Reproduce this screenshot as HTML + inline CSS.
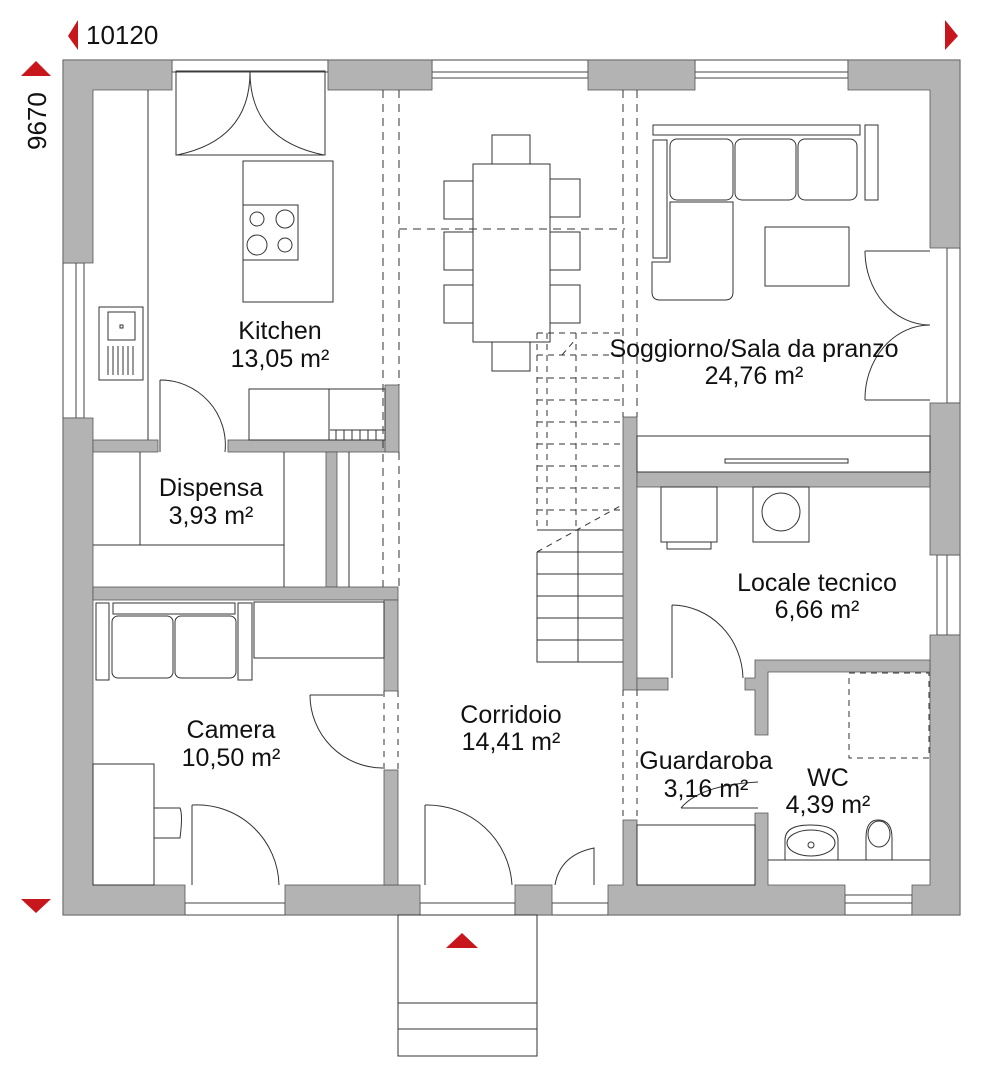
<!DOCTYPE html>
<html><head><meta charset="utf-8"><style>
html,body{margin:0;padding:0;background:#fff}
svg{display:block}
text{font-family:"Liberation Sans",sans-serif;fill:#111}
</style></head><body>
<svg width="995" height="1080" viewBox="0 0 995 1080" xmlns="http://www.w3.org/2000/svg">
<!-- dimension markers -->
<polygon points="78,20 68,36 78,50" fill="#c8161d"/>
<text x="86" y="44" font-size="26">10120</text>
<polygon points="945,20 958,36 945,50" fill="#c8161d"/>
<polygon points="21,76 36,61 51,76" fill="#c8161d"/>
<text x="0" y="0" font-size="26" transform="translate(46,150) rotate(-90)">9670</text>
<polygon points="21,899 36,913 51,899" fill="#c8161d"/>

<g fill="none" stroke="#333" stroke-width="1">
<rect x="63" y="60" width="897" height="855"/>
</g>

<!-- windows -->
<g fill="#fff" stroke="#444" stroke-width="1">
<rect x="172" y="60" width="156" height="12"/>
<rect x="432" y="60" width="156" height="12"/>
<rect x="432" y="72" width="156" height="6"/>
<rect x="695" y="60" width="153" height="12"/>
<rect x="695" y="72" width="153" height="6"/>
<rect x="63" y="263" width="13" height="155"/>
<rect x="76" y="263" width="8" height="155"/>
<rect x="947" y="248" width="13" height="155"/>
<rect x="947" y="555" width="13" height="80"/>
<rect x="937" y="555" width="10" height="80"/>
<rect x="185" y="903" width="100" height="12"/>
<rect x="845" y="903" width="67" height="12"/>
<rect x="845" y="895" width="67" height="8"/>
<rect x="420" y="903" width="95" height="12"/>
<rect x="552" y="903" width="56" height="12"/>
</g>

<!-- walls -->
<g fill="#b3b3b3" stroke="#555" stroke-width="0.8">
<path d="M63,60 H172 V90 H93 V263 H63 Z"/>
<rect x="328" y="60" width="104" height="30"/>
<rect x="588" y="60" width="107" height="30"/>
<path d="M848,60 H960 V248 H930 V90 H848 Z"/>
<rect x="930" y="403" width="30" height="152"/>
<path d="M930,635 H960 V915 H912 V885 H930 Z"/>
<path d="M63,418 H93 V885 H185 V915 H63 Z"/>
<rect x="285" y="885" width="135" height="30"/>
<rect x="515" y="885" width="37" height="30"/>
<path d="M608,885 H623 V820 H637 V885 H755 V813 H768 V885 H845 V915 H608 Z"/>
<rect x="93" y="440" width="65" height="12"/>
<rect x="228" y="440" width="170" height="12"/>
<rect x="385" y="385" width="14" height="67"/>
<rect x="326" y="452" width="11" height="135"/>
<rect x="93" y="587" width="305" height="13"/>
<rect x="384" y="600" width="14" height="91"/>
<rect x="384" y="770" width="14" height="115"/>
<rect x="623" y="417" width="14" height="273"/>
<rect x="637" y="472" width="293" height="15"/>
<rect x="637" y="678" width="31" height="12"/>
<path d="M755,660 H930 V672 H768 V735 H755 V690 H745 V678 H755 Z"/>
</g>

<g fill="none" stroke="#333" stroke-width="1">
<!-- kitchen -->
<line x1="148" y1="90" x2="148" y2="440"/>
<rect x="99" y="307" width="44" height="73"/>
<rect x="108" y="312" width="27" height="28"/>
<rect x="120" y="325" width="3" height="3"/>
<path d="M108,346 V375 M113,346 V375 M118,346 V375 M123,346 V375 M128,346 V375 M133,346 V375"/>
<rect x="176" y="71" width="149" height="84"/>
<path d="M250,72 Q250,140 177,155 M250,72 Q250,140 324,155"/>
<rect x="243" y="161" width="90" height="141"/>
<rect x="243" y="205" width="55" height="55"/>
<circle cx="257" cy="219" r="7"/><circle cx="285" cy="219" r="9"/>
<circle cx="257" cy="245" r="10"/><circle cx="285" cy="245" r="7"/>
<rect x="249" y="389" width="80" height="51"/>
<rect x="329" y="389" width="56" height="51"/>
<path d="M330,430 H385 M336,430 V440 M344,430 V440 M352,430 V440 M360,430 V440 M368,430 V440 M376,430 V440"/>
<path d="M160,380 V452 M160,380 A65,65 0 0 1 225,452"/>
<!-- dispensa -->
<line x1="140" y1="452" x2="140" y2="545"/>
<path d="M93,545 H284 V452 M284,545 V587"/>
<line x1="349" y1="452" x2="349" y2="587"/>
<!-- dashed -->
<path d="M383,90 V587 M399,90 V385 M399,452 V587 M399,229 H625 M623,90 V417 M637,90 V417" stroke-dasharray="8,6"/>
<path d="M384,691 V770 M398,691 V770 M623,690 V820 M637,690 V820" stroke-dasharray="6,6"/>
<!-- dining -->
<rect x="473" y="164" width="77" height="178"/>
<rect x="492" y="135" width="38" height="29"/>
<rect x="492" y="342" width="38" height="29"/>
<rect x="444" y="181" width="29" height="38"/><rect x="444" y="232" width="29" height="38"/><rect x="444" y="285" width="29" height="38"/>
<rect x="550" y="179" width="30" height="38"/><rect x="550" y="232" width="30" height="38"/><rect x="550" y="285" width="30" height="38"/>
<!-- living -->
<rect x="653" y="125" width="207" height="10"/>
<rect x="865" y="125" width="13" height="75"/>
<rect x="670" y="139" width="63" height="61" rx="7"/>
<rect x="735" y="139" width="61" height="61" rx="7"/>
<rect x="798" y="139" width="59" height="61" rx="7"/>
<rect x="653" y="140" width="14" height="118"/>
<path d="M670,202 H733 V292 Q733,300 725,300 H660 Q652,300 652,292 V262 H670 Z"/>
<rect x="765" y="227" width="84" height="59"/>
<path d="M865,251 H930 M865,251 A65,74 0 0 0 930,325 M865,400 H930 M865,400 A65,74 0 0 1 930,325"/>
<rect x="637" y="436" width="293" height="36"/>
<rect x="725" y="459" width="123" height="4"/>
<!-- stairs -->
<path d="M537,333 V530 M547,333 V530 M576,333 V530 M537,333 H622 M537,355 H622 M537,378 H622 M537,400 H622 M537,422 H622 M537,444 H622 M537,466 H622 M537,488 H622 M537,510 H622 M537,552 L622,505 M562,355 L575,340" stroke-dasharray="6,5"/>
<path d="M537,552 V662 H623 M578,530 V662 M537,530 H623 M537,552 H623 M537,574 H623 M537,596 H623 M537,618 H623 M537,640 H623"/>
<!-- locale tecnico -->
<rect x="661" y="487" width="56" height="55"/>
<rect x="667" y="542" width="44" height="7"/>
<rect x="753" y="487" width="56" height="55"/>
<circle cx="781" cy="512" r="19"/>
<path d="M672,605 V678 M672,605 A72,75 0 0 1 743,678"/>
<!-- guardaroba -->
<rect x="637" y="825" width="118" height="60"/>
<path d="M681,808 Q700,785 758,782 M681,808 H758"/>
<!-- WC -->
<rect x="849" y="673" width="80" height="85" stroke-dasharray="6,5"/>
<path d="M768,860 H930"/>
<path d="M785,860 V840 Q785,825 810,825 Q838,825 838,840 V860"/>
<ellipse cx="811" cy="843" rx="24" ry="13"/>
<circle cx="811" cy="845" r="3"/>
<path d="M866,860 V838 Q866,820 878,820 Q892,820 892,838 V860"/>
<ellipse cx="879" cy="834" rx="11" ry="13"/>
<!-- camera -->
<rect x="96" y="603" width="13" height="77"/>
<rect x="113" y="603" width="122" height="11"/>
<rect x="112" y="616" width="61" height="62" rx="6"/>
<rect x="175" y="616" width="61" height="62" rx="6"/>
<rect x="238" y="603" width="14" height="77"/>
<rect x="254" y="602" width="130" height="56"/>
<path d="M310,695 H383 M310,695 A73,73 0 0 0 383,768"/>
<rect x="93" y="764" width="61" height="121"/>
<path d="M154,808 H180 Q183,815 180,838 H154"/>
<path d="M192,805 V885 M192,805 A82,82 0 0 1 279,885"/>
<!-- entrance -->
<path d="M425,805 V885 M425,805 A85,85 0 0 1 512,885"/>
<path d="M555,885 Q560,855 594,848 V885"/>
<rect x="398" y="915" width="139" height="141"/>
<line x1="398" y1="1003" x2="537" y2="1003"/><line x1="398" y1="1029" x2="537" y2="1029"/>
</g>
<polygon points="446,948 462,933 478,948" fill="#c8161d"/>

<!-- labels -->
<g font-size="25" text-anchor="middle">
<text x="280" y="339">Kitchen</text><text x="280" y="367">13,05 m²</text>
<text x="211" y="496">Dispensa</text><text x="211" y="524">3,93 m²</text>
<text x="754" y="357">Soggiorno/Sala da pranzo</text><text x="754" y="384">24,76 m²</text>
<text x="817" y="591">Locale tecnico</text><text x="817" y="618">6,66 m²</text>
<text x="231" y="738">Camera</text><text x="231" y="766">10,50 m²</text>
<text x="511" y="723">Corridoio</text><text x="511" y="750">14,41 m²</text>
<text x="706" y="769">Guardaroba</text><text x="706" y="797">3,16 m²</text>
<text x="828" y="786">WC</text><text x="828" y="813">4,39 m²</text>
</g>
</svg>
</body></html>
